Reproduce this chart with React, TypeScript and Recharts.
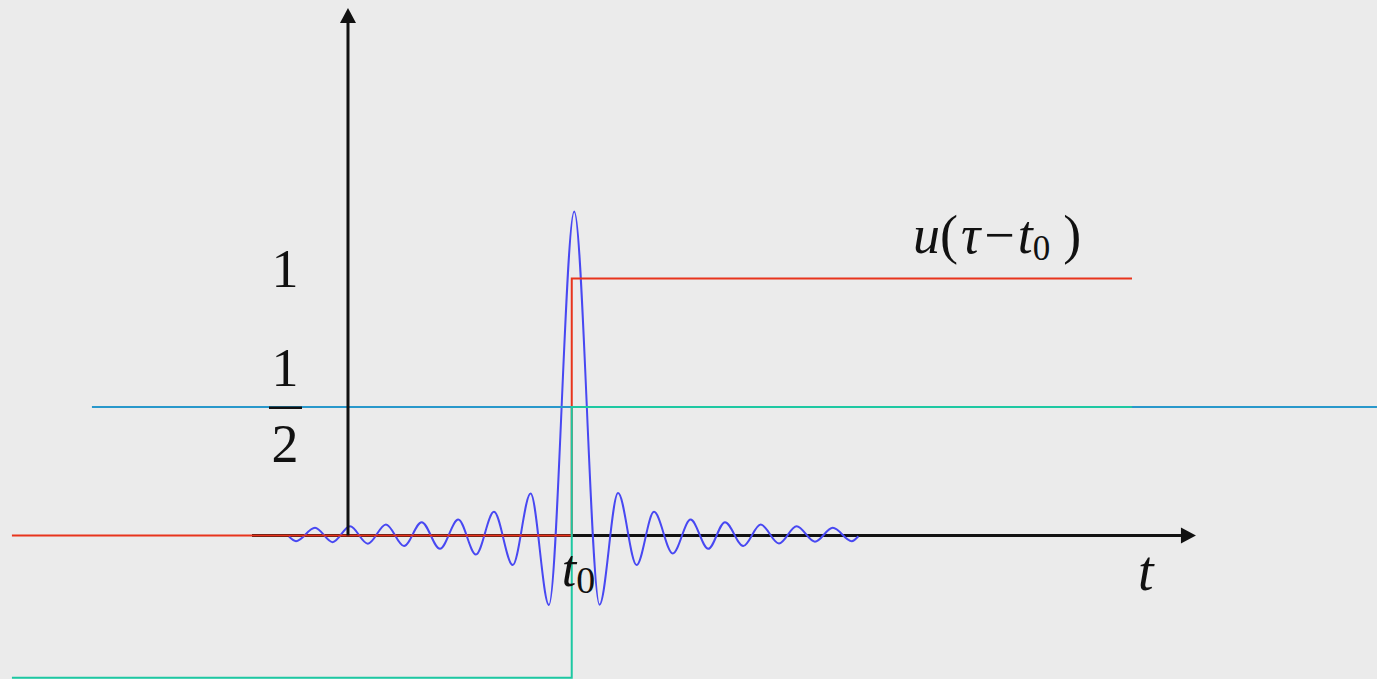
import { ComposedChart, Line, XAxis, YAxis, ReferenceLine, ReferenceDot } from 'recharts'

// sinc-like pulse, extrema (t0 = 1)
const waveT = [
  -0.261, -0.230, -0.146, -0.068, 0.009, 0.088, 0.168, 0.248, 0.326, 0.407, 0.488, 0.566, 0.646, 0.729, 0.808, 0.889,
  1.001,
  1.113, 1.195, 1.277, 1.354, 1.437, 1.516, 1.594, 1.668, 1.749, 1.826, 1.907, 1.985, 2.066, 2.145, 2.229, 2.258,
]
const waveV = [
  -0.004, -0.022, 0.030, -0.026, 0.036, -0.032, 0.043, -0.041, 0.052, -0.052, 0.062, -0.074, 0.092, -0.115, 0.163, -0.270,
  1.261,
  -0.269, 0.165, -0.115, 0.092, -0.070, 0.062, -0.052, 0.052, -0.041, 0.043, -0.031, 0.036, -0.024, 0.030, -0.022, -0.003,
]

// u(τ - t0)
const stepT = [-1.487, 0.99, 0.9901, 3.469]
const stepV = [0, 0, 1, 1]

// level 1/2
const halfT = [-1.133, 4.553]
const halfV = [0.5, 0.5]

// lower step up to 1/2
const lowT = [-1.487, 0.99, 0.9901, 3.469]
const lowV = [-0.554, -0.554, 0.5, 0.5]

const zip = (ts: number[], vs: number[]) => ts.map((t, i) => ({ t, v: vs[i] }))

const waveData = zip(waveT, waveV)
const stepData = zip(stepT, stepV)
const halfData = zip(halfT, halfV)
const lowData = zip(lowT, lowV)

const FONT = 'Liberation Serif'
const INK = '#111111'

function Arrow(props: any) {
  const { x1, y1, x2, y2 } = props
  const len = Math.hypot(x2 - x1, y2 - y1) || 1
  const dx = (x2 - x1) / len
  const dy = (y2 - y1) / len
  const bx = x2 - dx * 15
  const by = y2 - dy * 15
  const nx = -dy * 8
  const ny = dx * 8
  return (
    <g>
      <line x1={x1} y1={y1} x2={bx} y2={by} stroke={INK} strokeWidth={3} />
      <polygon points={`${x2},${y2} ${bx + nx},${by + ny} ${bx - nx},${by - ny}`} fill={INK} />
    </g>
  )
}

const txt = (content: any, size: number, anchor: 'start' | 'middle' = 'start') => (p: any) => (
  <text x={p.cx} y={p.cy} style={{ fontFamily: FONT, fontSize: size }} fill={INK} textAnchor={anchor}>
    {content}
  </text>
)

const noDot = { dot: false, activeDot: false, isAnimationActive: false } as const

export default function App() {
  return (
    <div style={{ position: 'absolute', left: 0, top: 0, width: 1377, height: 679, background: '#ebebeb' }}>
      <ComposedChart width={1377} height={679} margin={{ top: 0, right: 0, bottom: 0, left: 0 }}>
        <XAxis type="number" dataKey="t" domain={[-1.5398, 4.5531]} allowDataOverflow hide />
        <YAxis type="number" dataKey="v" domain={[-0.5584, 2.0837]} allowDataOverflow hide />

        <ReferenceLine segment={[{ x: -0.4248, y: 0 }, { x: 3.752, y: 0 }]} shape={Arrow} />

        <Line data={waveData} dataKey="v" type="monotone" stroke="#4848f2" strokeWidth={2} {...noDot} />
        <Line data={stepData} dataKey="v" type="linear" stroke="#e8341c" strokeWidth={2} {...noDot} />
        <Line data={halfData} dataKey="v" type="linear" stroke="#2998cb" strokeWidth={2} {...noDot} />
        <Line data={lowData} dataKey="v" type="linear" stroke="#1dc8a2" strokeWidth={2} {...noDot} />

        <ReferenceLine segment={[{ x: 0, y: 0 }, { x: 0, y: 2.0525 }]} shape={Arrow} />
        <ReferenceLine segment={[{ x: -0.3496, y: 0.497 }, { x: -0.2035, y: 0.497 }]} stroke={INK} strokeWidth={2.3} />

        <ReferenceDot x={-0.279} y={0.968} shape={txt('1', 54, 'middle')} />
        <ReferenceDot x={-0.279} y={0.583} shape={txt('1', 54, 'middle')} />
        <ReferenceDot x={-0.279} y={0.287} shape={txt('2', 54, 'middle')} />
        <ReferenceDot
          x={0.9456}
          y={-0.1965}
          shape={txt(
            <>
              <tspan fontStyle="italic">t</tspan>
              <tspan fontSize={38} dy={7}>0</tspan>
            </>,
            52,
          )}
        />
        <ReferenceDot x={3.496} y={-0.212} shape={txt(<tspan fontStyle="italic">t</tspan>, 56)} />
        <ReferenceDot
          x={2.5}
          y={1.1}
          shape={txt(
            <>
              <tspan fontStyle="italic">u</tspan>
              <tspan>(</tspan>
              <tspan fontStyle="italic" dx={3}>τ</tspan>
              <tspan dx={4}>−</tspan>
              <tspan fontStyle="italic" dx={3}>t</tspan>
              <tspan fontSize={35} dy={7}>0</tspan>
              <tspan dx={13} dy={-7}>)</tspan>
            </>,
            54,
          )}
        />
      </ComposedChart>
    </div>
  )
}
